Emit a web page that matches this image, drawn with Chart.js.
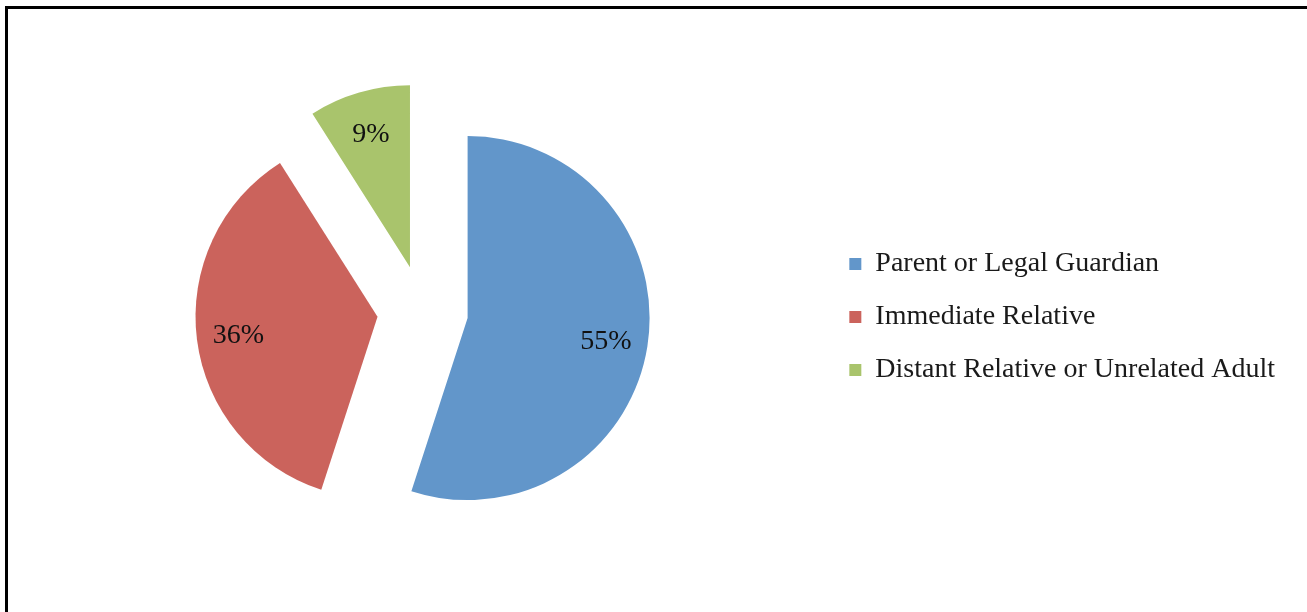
<!DOCTYPE html>
<html>
<head>
<meta charset="utf-8">
<title>Caregiver relationship</title>
<script src="https://cdn.jsdelivr.net/npm/chart.js@4.4.0/dist/chart.umd.min.js"></script>
<style>
  html, body { margin: 0; padding: 0; background: #fff; overflow: hidden; }
  #frame {
    position: absolute; left: 5px; top: 6px;
    width: 1340px; height: 700px;
    border: 3px solid #000;
  }
  #pie { position: absolute; left: 0; top: 0; }
</style>
</head>
<body>
<div id="frame"></div>
<canvas id="pie" width="1307" height="612"></canvas>
<script>
// categories and their share of respondents (percent)
const categories = ['Parent or Legal Guardian', 'Immediate Relative', 'Distant Relative or Unrelated Adult'];
const shares = [55, 36, 9];

const sliceColors = ['#6296ca', '#cb635c', '#a9c46c'];
const serif = "'Liberation Serif', 'Times New Roman', serif";

// each slice is pulled out from the centre by this fraction of the radius
const EXPLODE = 0.25;

// draws the slices pulled apart, then the percentage inside each one
const explodedPie = {
    id: 'explodedPie',
    beforeDatasetDraw: function (chart, args) {
        const ctx = chart.ctx;
        const arcs = args.meta.data;
        arcs.forEach(function (arc, i) {
            const mid = (arc.startAngle + arc.endAngle) / 2;
            const shift = arc.outerRadius * EXPLODE;
            ctx.save();
            ctx.translate(Math.cos(mid) * shift, Math.sin(mid) * shift);
            arc.draw(ctx);

            // value label, about three quarters of the way out,
            // digits centred on the anchor point
            const r = arc.outerRadius * 0.77;
            ctx.fillStyle = '#111';
            ctx.font = '28px ' + serif;
            ctx.textAlign = 'center';
            ctx.textBaseline = 'alphabetic';
            ctx.fillText(shares[i] + '%', arc.x + Math.cos(mid) * r, arc.y + Math.sin(mid) * r + 9);
            ctx.restore();
        });
        return false;
    }
};

new Chart(document.getElementById('pie'), {
    type: 'pie',
    data: {
        labels: categories,
        datasets: [{
            data: shares,
            backgroundColor: sliceColors,
            borderWidth: 0,
            radius: 182
        }]
    },
    options: {
        responsive: false,
        animation: false,
        devicePixelRatio: 1,
        layout: { padding: { left: 21, right: 22, top: 10, bottom: 0 } },
        plugins: {
            tooltip: { enabled: false },
            legend: {
                position: 'right',
                align: 'center',
                // empty title only nudges the entries down a little
                title: { display: true, text: '', padding: { top: 0, bottom: 11 }, font: { size: 1, lineHeight: 1 } },
                labels: {
                    boxWidth: 12,
                    boxHeight: 12,
                    padding: 25,
                    color: '#1a1a1a',
                    font: { family: serif, size: 28 }
                }
            }
        }
    },
    plugins: [explodedPie]
});
</script>
</body>
</html>
